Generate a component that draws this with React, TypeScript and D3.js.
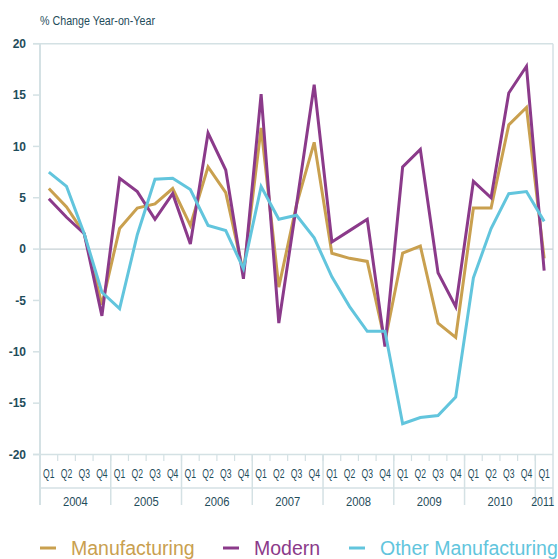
import React from "react";
import * as d3 from "d3";

const years = ["2004", "2005", "2006", "2007", "2008", "2009", "2010", "2011"];
const quarters = ["Q1", "Q2", "Q3", "Q4"];
const periods: string[] = [];
years.forEach((y) => quarters.forEach((q) => { if (!(y === "2011" && q !== "Q1")) periods.push(`${y} ${q}`); }));

const manufacturing = [5.9, 4.1, 1.5, -5.4, 2.0, 4.0, 4.4, 5.9, 2.3, 8.0, 5.5, -2.3, 11.8, -3.7, 4.3, 10.4, -0.4, -0.9, -1.2, -9.0, -0.4, 0.3, -7.2, -8.6, 4.0, 4.0, 12.1, 13.8, -0.9];
const modern = [4.9, 3.1, 1.5, -6.5, 6.9, 5.6, 2.9, 5.4, 0.5, 11.3, 7.7, -2.9, 15.1, -7.2, 4.3, 16.0, 0.7, 1.8, 2.9, -9.5, 8.0, 9.7, -2.3, -5.6, 6.6, 5.0, 15.2, 17.8, -2.1];
const otherManufacturing = [7.5, 6.1, 1.5, -4.2, -5.8, 1.4, 6.8, 6.9, 5.8, 2.3, 1.8, -1.9, 6.1, 2.9, 3.3, 1.1, -2.7, -5.6, -8.0, -8.0, -17.0, -16.4, -16.2, -14.4, -2.8, 2.0, 5.4, 5.6, 2.7];
const yTicks = [20, 15, 10, 5, 0, -5, -10, -15, -20];

const seriesNames = ["Manufacturing", "Modern", "Other Manufacturing"];
const seriesData = [manufacturing, modern, otherManufacturing];
const colors = ["#c9a04f", "#8b3a8a", "#62c5dd"];

const W = 558, H = 559;
const left = 40, right = 553, top = 43.7, bottom = 454.5;
const textColor = "#1f4d5b";
const axisColor = "#d4e1e4";
const font = "'Liberation Sans', Arial, sans-serif";

export default function App() {
  const x = d3.scaleBand<string>().domain(periods).range([left, right]).padding(0);
  const y = d3.scaleLinear().domain([-20, 20]).range([bottom, top]);
  const bw = x.bandwidth();
  const cx = (i: number) => (x(periods[i]) as number) + bw / 2;
  const line = d3.line<number>().x((_, i) => cx(i)).y((d) => y(d));

  const yearGroups = years.map((yr) => {
    const idx = periods.map((p, i) => (p.startsWith(yr) ? i : -1)).filter((i) => i >= 0);
    const x0 = x(periods[idx[0]]) as number;
    const x1 = (x(periods[idx[idx.length - 1]]) as number) + bw;
    return { yr, x0, x1, single: idx.length === 1 };
  });

  const legendItems = [
    { name: seriesNames[0], lx: 40, tx: 71 },
    { name: seriesNames[1], lx: 223, tx: 254 },
    { name: seriesNames[2], lx: 349, tx: 380 },
  ];

  return (
    <svg width={W} height={H} style={{ position: "absolute", left: 0, top: 0, background: "#fff" }} fontFamily={font}>
      <text x={40} y={25} fontSize={13.5} fill={textColor} textLength={115} lengthAdjust="spacingAndGlyphs">% Change Year-on-Year</text>
      {/* frame */}
      <line x1={33} x2={right} y1={y(20)} y2={y(20)} stroke={axisColor} strokeWidth={1.5} />
      <line x1={33} x2={right} y1={y(-20)} y2={y(-20)} stroke={axisColor} strokeWidth={1.5} />
      <line x1={left} x2={left} y1={y(20)} y2={505} stroke={axisColor} strokeWidth={2} />
      <line x1={right} x2={right} y1={y(20)} y2={505} stroke={axisColor} strokeWidth={1.5} />
      <line x1={left} x2={right} y1={y(0)} y2={y(0)} stroke="#c6d0d4" strokeWidth={1.2} />
      {yTicks.map((t) => (
        <g key={t}>
          <line x1={33} x2={left} y1={y(t)} y2={y(t)} stroke={axisColor} strokeWidth={1.5} />
          <text x={26} y={y(t)} dy="0.35em" textAnchor="end" fontSize={12} fontWeight="bold" fill={textColor}>{t}</text>
        </g>
      ))}
      {/* x axis */}
      {periods.map((p, i) => (
        <g key={p}>
          {i > 0 && <line x1={x(p)} x2={x(p)} y1={bottom} y2={461} stroke={axisColor} strokeWidth={1.2} />}
          <text x={cx(i)} y={474} dy="0.35em" textAnchor="middle" fontSize={12.5} fill={textColor} textLength={11.5} lengthAdjust="spacingAndGlyphs">{p.split(" ")[1]}</text>
        </g>
      ))}
      <line x1={left} x2={right} y1={488} y2={488} stroke={axisColor} strokeWidth={1.5} />
      {yearGroups.map((g) => (
        <g key={g.yr}>
          <line x1={g.x0} x2={g.x0} y1={bottom} y2={505} stroke={axisColor} strokeWidth={1.5} />
          <text x={(g.x0 + g.x1) / 2 - (g.single ? 1.5 : 0)} y={501} dy="0.35em" textAnchor="middle" fontSize={13} fill={textColor} textLength={g.single ? 23 : 25} lengthAdjust="spacingAndGlyphs">{g.yr}</text>
        </g>
      ))}
      {/* series */}
      {seriesData.map((s, k) => (
        <path key={k} d={line(s) as string} fill="none" stroke={colors[k]} strokeWidth={3} strokeLinejoin="miter" />
      ))}
      {/* legend */}
      {legendItems.map((it, k) => (
        <g key={it.name}>
          <line x1={it.lx} x2={it.lx + 16} y1={548} y2={548} stroke={colors[k]} strokeWidth={3} />
          <text x={it.tx} y={555} fontSize={19.5} fill={colors[k]}>{it.name}</text>
        </g>
      ))}
    </svg>
  );
}
